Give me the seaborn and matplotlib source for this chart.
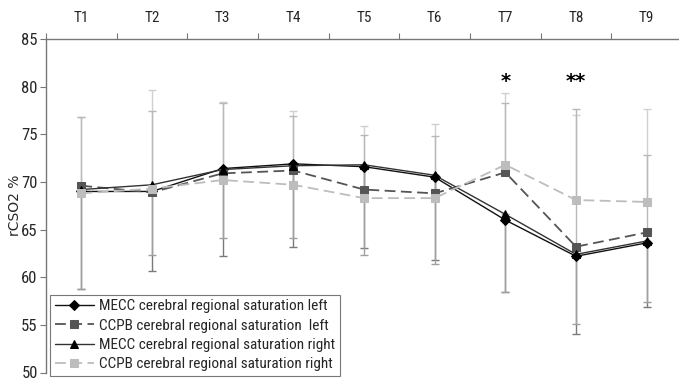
import matplotlib
matplotlib.use("Agg")
import matplotlib.pyplot as plt
import seaborn as sns
import numpy as np
import pandas as pd

# ---- data ----
times = ["T1", "T2", "T3", "T4", "T5", "T6", "T7", "T8", "T9"]
mecc_left = [69.0, 69.0, 71.4, 71.9, 71.6, 70.5, 66.0, 62.2, 63.6]
ccpb_left = [69.6, 68.9, 70.9, 71.2, 69.2, 68.8, 71.0, 63.2, 64.7]
mecc_right = [69.2, 69.7, 71.3, 71.7, 71.8, 70.7, 66.6, 62.4, 63.8]
ccpb_right = [68.8, 69.3, 70.2, 69.7, 68.3, 68.3, 71.8, 68.1, 67.9]

# error-bar end points (upper whiskers of CCPB series, lower whiskers of MECC series)
ccpb_right_upper = [76.8, 79.7, 78.4, 77.4, 75.9, 76.1, 79.3, 77.0, 77.7]
ccpb_left_upper = [76.8, 77.4, 78.3, 76.9, 74.9, 74.8, 78.3, 77.7, 72.8]
mecc_left_lower = [58.8, 60.6, 62.2, 63.2, 63.1, 61.8, 58.5, 54.0, 56.9]
mecc_right_lower = [58.8, 62.3, 64.1, 64.1, 62.3, 61.4, 58.5, 55.1, 57.4]

star_labels = {6: "*", 7: "**"}
star_level = 80.5

labels = ["MECC cerebral regional saturation left",
          "CCPB cerebral regional saturation  left",
          "MECC cerebral regional saturation right",
          "CCPB cerebral regional saturation right"]

sns.set_theme(style="white")
plt.rcParams["font.family"] = ["Roboto Condensed", "DejaVu Sans"]

fig = plt.figure(figsize=(6.79, 3.82), dpi=100)
ax = fig.add_axes([46 / 679, 1 - 372.5 / 382, 636 / 679, (372.5 - 39) / 382])

x = np.arange(len(times))

# error bars
def whisk(vals, ends, upper, color, lw=1.0):
    vals = np.asarray(vals)
    ends = np.asarray(ends)
    if upper:
        yerr = [np.zeros_like(vals), ends - vals]
    else:
        yerr = [vals - ends, np.zeros_like(vals)]
    ax.errorbar(x, vals, yerr=yerr, fmt="none", ecolor=color, elinewidth=lw,
                capsize=3, capthick=lw, zorder=1)

whisk(ccpb_right, ccpb_right_upper, True, "#d0d0d0")
whisk(ccpb_left, ccpb_left_upper, True, "#b8b8b8")
whisk(mecc_left, mecc_left_lower, False, "#7a7a7a")
whisk(mecc_right, mecc_right_lower, False, "#a0a0a0")

df = pd.DataFrame({
    "x": np.tile(x, 4),
    "value": mecc_left + ccpb_left + mecc_right + ccpb_right,
    "series": np.repeat(labels, len(times)),
})

styles = [
    dict(color="#111111", marker="D", ls="-", ms=5, mc="#000000", lw=1.0),
    dict(color="#555555", marker="s", ls=(0, (6, 3)), ms=6, mc="#555555", lw=1.3),
    dict(color="#333333", marker="^", ls="-", ms=6, mc="#000000", lw=1.0),
    dict(color="#bdbdbd", marker="s", ls=(0, (6, 3)), ms=6, mc="#bdbdbd", lw=1.3),
]

for lab, st in zip(labels, styles):
    sub = df[df["series"] == lab]
    sns.lineplot(data=sub, x="x", y="value", ax=ax, color=st["color"],
                 linestyle=st["ls"], linewidth=st["lw"], marker=st["marker"],
                 markersize=st["ms"], markerfacecolor=st["mc"],
                 markeredgecolor=st["mc"], label=lab, zorder=3)

for i, s in star_labels.items():
    ax.text(x[i], star_level, s, ha="center", va="center", fontsize=14,
            fontweight="bold", color="black", family=["DejaVu Sans"])

ax.set_xlim(-0.5, len(times) - 0.5)
ax.set_ylim(50, 85)
ax.set_yticks(np.arange(50, 86, 5))
ax.tick_params(axis="y", labelsize=12, length=4, width=0.8, color="#777777",
               left=True, pad=2)

ax.xaxis.tick_top()
ax.set_xticks(np.arange(-0.5, len(times) - 0.4, 1.0))
ax.set_xticklabels([])
ax.set_xticks(x, minor=True)
ax.set_xticklabels(times, minor=True)
ax.tick_params(axis="x", which="major", length=4, width=0.8, color="#777777",
               top=True, bottom=False, direction="out")
ax.tick_params(axis="x", which="minor", length=0, labelsize=11, pad=10,
               top=True, bottom=False)
ax.set_xlabel("")
ax.set_ylabel("rCSO2 %", fontsize=10, family=["DejaVu Sans"], va="center")
ax.yaxis.set_label_coords(-0.049, 0.5)

for side in ["right", "bottom"]:
    ax.spines[side].set_visible(False)
for side in ["top", "left"]:
    ax.spines[side].set_color("#777777")
    ax.spines[side].set_linewidth(1.0)

leg = ax.legend(loc="lower left", bbox_to_anchor=(4 / 636, -0.01), fontsize=11,
                frameon=True, fancybox=False, edgecolor="#555555",
                handlelength=2.6, handletextpad=0.3, borderpad=0.3,
                labelspacing=0.35, borderaxespad=0)
leg.get_frame().set_linewidth(0.8)

fig.savefig("out.png", dpi=100)
